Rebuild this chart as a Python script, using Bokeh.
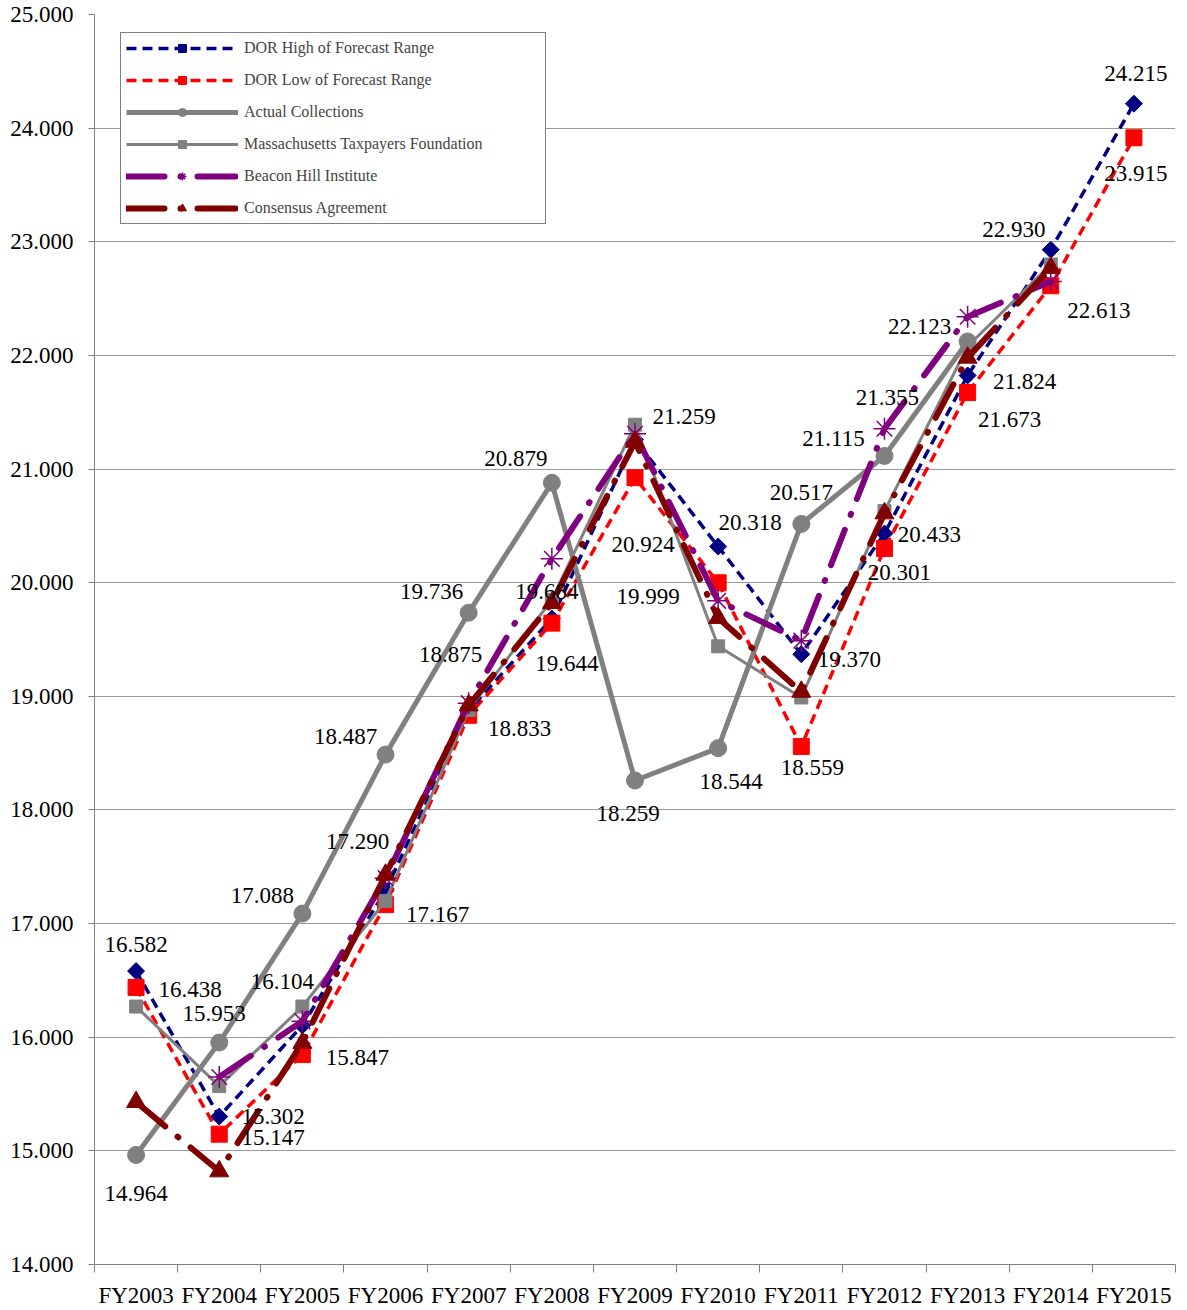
from bokeh.plotting import figure
from bokeh.models import (ColumnDataSource, Range1d, FixedTicker, NumeralTickFormatter,
                          Legend, LegendItem)
from bokeh.core.properties import value
from bokeh.embed import file_html
from bokeh.resources import INLINE

# ---------------- data ----------------
years = ["FY2003", "FY2004", "FY2005", "FY2006", "FY2007", "FY2008", "FY2009",
         "FY2010", "FY2011", "FY2012", "FY2013", "FY2014", "FY2015"]

dor_high = [16.582, 15.302, 16.104, 17.290, 18.875, 19.684, 21.259, 20.318, 19.370,
            20.433, 21.824, 22.930, 24.215]
dor_low = [16.438, 15.147, 15.847, 17.167, 18.833, 19.644, 20.924, 19.999, 18.559,
           20.301, 21.673, 22.613, 23.915]
actual = [14.964, 15.953, 17.088, 18.487, 19.736, 20.879, 18.259, 18.544, 20.517,
          21.115, 22.123]
mtf = [16.27, 15.57, 16.27, 17.20, 18.88, 19.85, 21.39, 19.44, 18.99, 20.63, 22.08, 22.80]
beacon_years = ["FY2004", "FY2005", "FY2006", "FY2007", "FY2008", "FY2009", "FY2010",
                "FY2011", "FY2012", "FY2013", "FY2014"]
beacon = [15.65, 16.14, 17.40, 18.94, 20.21, 21.31, 19.84, 19.49, 21.355, 22.34, 22.65]
consensus = [15.43, 14.82, 15.95, 17.43, 18.92, 19.82, 21.24, 19.69, 19.04, 20.61, 21.98, 22.77]

series_names = ["DOR High of Forecast Range", "DOR Low of Forecast Range", "Actual Collections",
                "Massachusetts Taxpayers Foundation", "Beacon Hill Institute", "Consensus Agreement"]

y_ticks = [14, 15, 16, 17, 18, 19, 20, 21, 22, 23, 24, 25]

# label pixel offsets (style only): (dx, dy) per point
high_offsets = [(0, -27), (54, 0), (-20, -44), (-28, -49), (-18, -56), (-5, -27), (49, -23),
                (32, -24), (48, 5), (45, 1), (57, 6), (-37, -20), (2, -30)]
low_offsets = [(54, 2), (54, 3), (55, 3), (52, 10), (51, 13), (15, 40), (8, 67), (-70, 14),
               (11, 21), (15, 24), (42, 27), (48, 25), (2, 36)]
actual_offsets = [(0, 39), (-5, -29), (-40, -18), (-40, -18), (-37, -21), (-36, -24), (-7, 33),
                  (13, 33), (0, -31), (-51, -17), (-48, -15)]
beacon_label_index = 8
beacon_label_offset = (3, -31)

idx = {y: i for i, y in enumerate(years)}

def xs(labels):
    return [idx[l] for l in labels]

# ---------------- figure ----------------
FONT = "Liberation Serif"
p = figure(width=1187, height=1310, output_backend="svg", toolbar_location=None,
           x_range=Range1d(-0.5, 12.5), y_range=Range1d(14, 25),
           min_border_left=94, min_border_right=12, min_border_top=14, min_border_bottom=45)
p.outline_line_color = None
p.background_fill_color = "white"
p.border_fill_color = "white"

p.xgrid.grid_line_color = None
p.ygrid.grid_line_color = "#9a9a9a"
p.ygrid.grid_line_width = 1

p.yaxis.ticker = FixedTicker(ticks=y_ticks)
p.yaxis.formatter = NumeralTickFormatter(format="0.000")
p.yaxis.major_label_text_font = FONT
p.yaxis.major_label_text_font_size = "23px"
p.yaxis.major_label_text_color = "black"
p.yaxis.major_tick_in = 0
p.yaxis.major_tick_out = 6
p.yaxis.minor_tick_line_color = None
p.yaxis.axis_line_color = "#808080"
p.yaxis.major_tick_line_color = "#808080"
p.yaxis.major_label_standoff = 15

p.xaxis.ticker = FixedTicker(ticks=list(range(len(years))),
                             minor_ticks=[i - 0.5 for i in range(len(years) + 1)])
p.xaxis.major_label_overrides = {i: y for i, y in enumerate(years)}
p.xaxis.major_label_text_font = FONT
p.xaxis.major_label_text_font_size = "23px"
p.xaxis.major_label_text_color = "black"
p.xaxis.major_tick_in = 0
p.xaxis.major_tick_out = 0
p.xaxis.minor_tick_in = 0
p.xaxis.minor_tick_out = 8
p.xaxis.minor_tick_line_color = "#808080"
p.xaxis.axis_line_color = "#808080"
p.xaxis.major_label_standoff = 10

NAVY, RED, GRAY, PURPLE, MAROON = "#000080", "#FF0000", "#808080", "#800080", "#800000"

items = []

# DOR High
x_all = xs(years)
l1 = p.line(x_all, dor_high, line_color=NAVY, line_width=3.5, line_dash="10 6")
m1 = p.scatter(x_all, dor_high, marker="square", angle=0.7854, size=12,
               fill_color=NAVY, line_color=NAVY)
items.append(LegendItem(label=series_names[0], renderers=[l1, m1]))

# DOR Low
l2 = p.line(x_all, dor_low, line_color=RED, line_width=3.5, line_dash="10 6")
m2 = p.scatter(x_all, dor_low, marker="square", size=16, fill_color=RED, line_color=RED)
items.append(LegendItem(label=series_names[1], renderers=[l2, m2]))

# Actual
xa = xs(years[:len(actual)])
l3 = p.line(xa, actual, line_color=GRAY, line_width=5)
m3 = p.scatter(xa, actual, marker="circle", size=17, fill_color=GRAY, line_color=GRAY)
items.append(LegendItem(label=series_names[2], renderers=[l3, m3]))

# MTF
xm = xs(years[:len(mtf)])
l4 = p.line(xm, mtf, line_color=GRAY, line_width=3)
m4 = p.scatter(xm, mtf, marker="square", size=13, fill_color=GRAY, line_color=GRAY)
items.append(LegendItem(label=series_names[3], renderers=[l4, m4]))

# Beacon Hill
xb = xs(beacon_years)
l5 = p.line(xb, beacon, line_color=PURPLE, line_width=6, line_dash="38 16 1 16", line_cap="round")
m5 = p.scatter(xb, beacon, marker="asterisk", size=22, line_color=PURPLE, line_width=1.5)
items.append(LegendItem(label=series_names[4], renderers=[l5, m5]))

# Consensus
xc = xs(years[:len(consensus)])
l6 = p.line(xc, consensus, line_color=MAROON, line_width=6, line_dash="38 16 1 16", line_cap="round")
m6 = p.scatter(xc, consensus, marker="triangle", size=19, fill_color=MAROON, line_color=MAROON)
items.append(LegendItem(label=series_names[5], renderers=[l6, m6]))

# ---------------- data labels ----------------
lx, ly, lt, ox, oy = [], [], [], [], []
def add_labels(xvals, yvals, offsets):
    for xv, yv, (dx, dy) in zip(xvals, yvals, offsets):
        lx.append(xv); ly.append(yv); lt.append("%.3f" % yv); ox.append(dx); oy.append(dy)

add_labels(x_all, dor_high, high_offsets)
add_labels(x_all, dor_low, low_offsets)
add_labels(xa, actual, actual_offsets)
add_labels([xb[beacon_label_index]], [beacon[beacon_label_index]], [beacon_label_offset])

lsrc = ColumnDataSource(dict(x=lx, y=ly, text=lt, xo=ox, yo=oy))
p.text(x="x", y="y", text="text", x_offset="xo", y_offset="yo", source=lsrc,
       text_font=value(FONT), text_font_size="23px", text_color="black",
       text_align="center", text_baseline="middle")

# ---------------- legend ----------------
legend = Legend(items=items, location=(26, 1040), orientation="vertical",
                label_text_font=FONT, label_text_font_size="16px",
                label_height=20, glyph_height=20, glyph_width=112, spacing=12,
                padding=5, label_standoff=6, label_width=296, margin=0,
                border_line_color="black", border_line_width=1,
                background_fill_color="white", background_fill_alpha=1)
p.add_layout(legend, "center")

open("out.html", "w").write(file_html(p, INLINE))
